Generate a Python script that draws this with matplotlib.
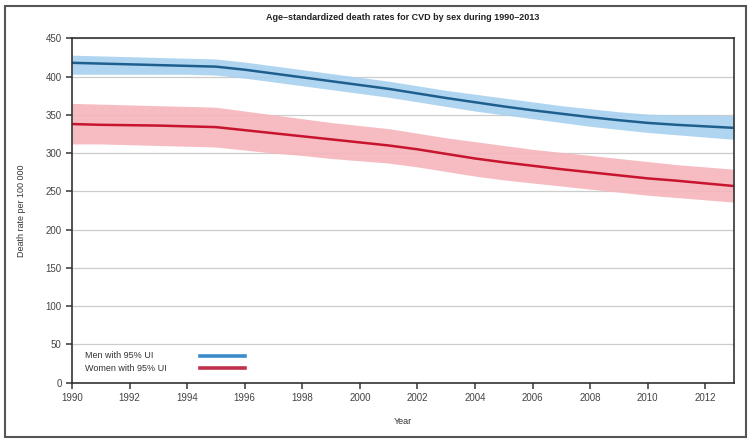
import numpy as np
import matplotlib
matplotlib.use("Agg")
import matplotlib.pyplot as plt
from matplotlib.patches import Rectangle
from matplotlib.lines import Line2D

# values
years = list(range(1990, 2014))
men = [418, 417, 416, 415, 414, 413, 409, 404, 399, 394, 389, 384,
       378, 372, 366.5, 361, 356, 351.5, 347, 343, 339.5, 337, 335, 333]
men_hi = [428, 427, 426, 425, 424, 423, 419, 414, 409, 404, 399, 394,
          388, 382, 377, 372, 367, 362, 358, 354, 351, 350, 350, 349]
men_lo = [403, 403, 403, 403, 403, 402, 398, 393, 388, 383, 378, 373,
          367, 361, 355, 350, 345, 340, 335, 331, 327, 324, 321, 318]
women = [338, 337, 336.5, 336, 335, 334, 330, 326, 322, 318, 314, 310,
         305, 299, 293, 288, 283.5, 279, 275, 271, 267, 264, 260.5, 257]
women_hi = [365, 364, 363, 362, 361, 360, 355, 350, 345, 340, 336, 332,
            326, 320, 315, 310, 305, 301, 297, 293, 289, 285, 282, 279]
women_lo = [312, 312, 311, 310, 309, 308, 304, 300, 297, 293, 290, 287,
            282, 276, 270, 265, 261, 257, 253, 249, 245, 242, 239, 236]

x_ticks = list(range(1990, 2013, 2))
y_ticks = list(range(0, 451, 50))
labels = ["Men with 95% UI", "Women with 95% UI"]

plt.rcParams['font.family'] = ['Liberation Sans', 'DejaVu Sans']

fig = plt.figure(figsize=(7.51, 4.43), dpi=100)
ax = fig.add_axes([0.0959, 0.136, 0.8815, 0.7775])

# outer frame round the whole figure
fig.patches.append(Rectangle((5 / 751, 6 / 443), 741 / 751, 431 / 443,
                             transform=fig.transFigure, fill=False,
                             edgecolor="#555555", linewidth=1.5))

ax.fill_between(years, men_lo, men_hi, color="#a8d1f0", alpha=0.9, lw=0)
ax.fill_between(years, women_lo, women_hi, color="#f5b5bb", alpha=0.9, lw=0)
ax.plot(years, men, color="#1f5f8e", lw=1.8)
ax.plot(years, women, color="#c8142e", lw=1.8)

ax.set_xlim(1990, 2013)
ax.set_ylim(0, 450)
ax.set_xticks(x_ticks)
ax.set_yticks(y_ticks)
ax.tick_params(axis="both", labelsize=7, colors="#444444", length=4,
               width=1.2, direction="out")
ax.yaxis.grid(True, color="#cccccc", lw=0.9)
ax.set_axisbelow(True)
for s in ax.spines.values():
    s.set_color("#333333")
    s.set_linewidth(1.2)

ax.set_title("Age\u2013standardized death rates for CVD by sex during 1990\u20132013",
             fontsize=6.5, fontweight="bold", color="#222222", pad=13)
ax.set_xlabel("Year", fontsize=6.5, color="#333333", labelpad=10)
ax.set_ylabel("Death rate per 100 000", fontsize=6.5, color="#333333", labelpad=14)

# legend: left-aligned text, lines to the right
leg_colors = ["#3a8ccc", "#c0304c"]
for i, (lab, c) in enumerate(zip(labels, leg_colors)):
    yy = 0.078 - i * 0.036
    ax.text(0.02, yy, lab, transform=ax.transAxes, fontsize=6.5,
            color="#333333", va="center", ha="left")
    ax.add_line(Line2D([0.193, 0.262], [yy, yy], transform=ax.transAxes,
                       color=c, lw=2.6))

fig.savefig("out.png", dpi=100)
